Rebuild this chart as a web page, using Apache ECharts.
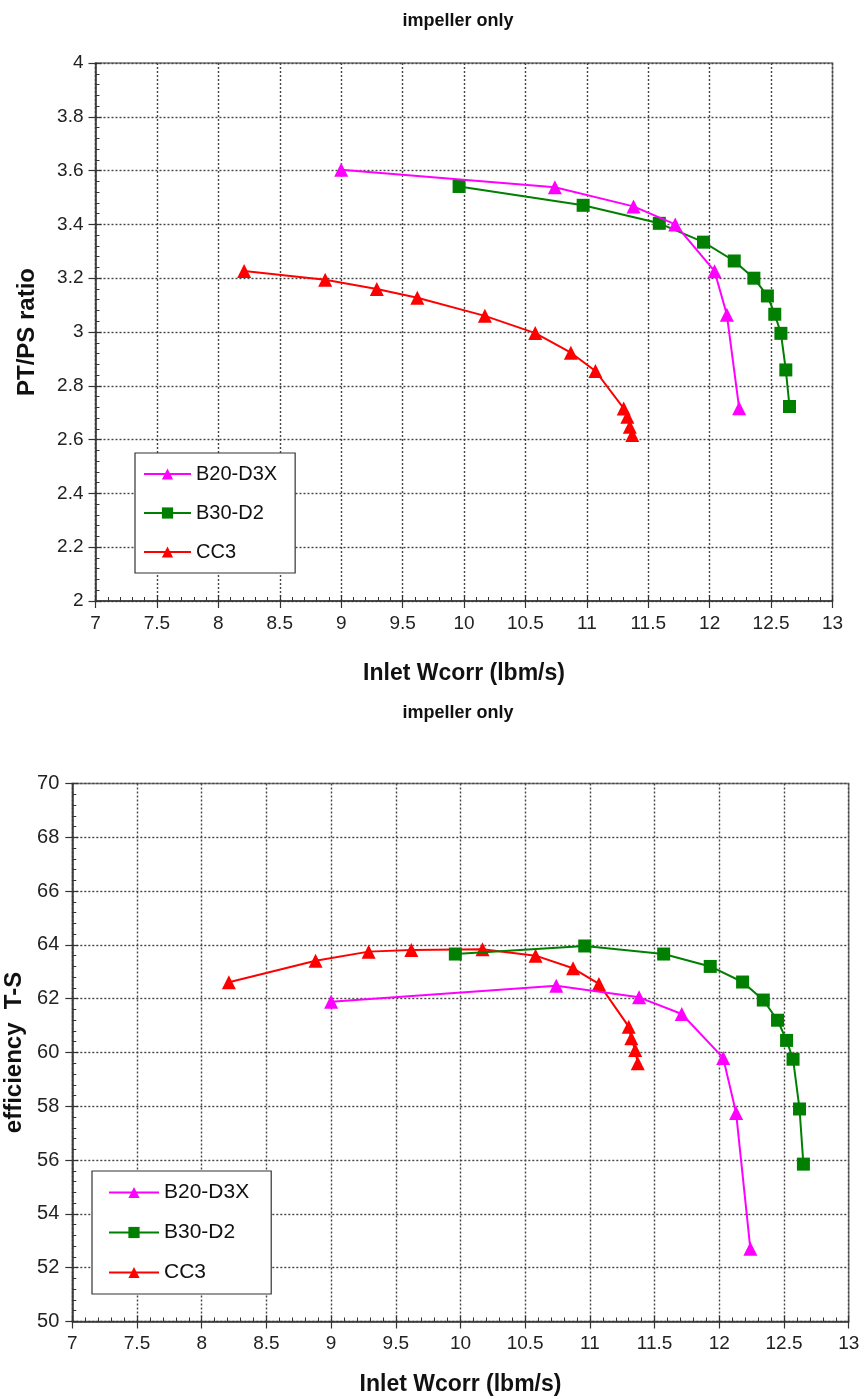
<!DOCTYPE html>
<html>
<head>
<meta charset="utf-8">
<script src="https://cdn.jsdelivr.net/npm/echarts@6/dist/echarts.min.js"></script>
<style>
html,body{margin:0;padding:0;background:#fff;}
#c{width:865px;height:1399px;}
</style>
</head>
<body>
<div id="c"></div>
<script>
// ---------- data ----------
var seriesNames = ['B20-D3X', 'B30-D2', 'CC3'];
var titleText = 'impeller only';
var xName = 'Inlet Wcorr (lbm/s)';
var yNameTop = 'PT/PS ratio';
var yNameBot = 'efficiency  T-S';

// top chart: PT/PS ratio
var b20X_top = [9.00, 10.74, 11.38, 11.72, 12.04, 12.14, 12.24];
var b20Y_top = [3.603, 3.538, 3.467, 3.400, 3.226, 3.064, 2.717];
var b30X_top = [9.96, 10.97, 11.59, 11.95, 12.20, 12.36, 12.47, 12.53, 12.58, 12.62, 12.65];
var b30Y_top = [3.541, 3.471, 3.404, 3.334, 3.264, 3.200, 3.134, 3.066, 2.995, 2.859, 2.723];
var cc3X_top = [8.21, 8.87, 9.29, 9.62, 10.17, 10.58, 10.87, 11.07, 11.30, 11.33, 11.35, 11.37];
var cc3Y_top = [3.227, 3.194, 3.160, 3.127, 3.060, 2.996, 2.923, 2.855, 2.716, 2.685, 2.648, 2.617];

// bottom chart: efficiency T-S
var b20X_bot = [9.00, 10.74, 11.38, 11.71, 12.03, 12.13, 12.24];
var b20Y_bot = [61.89, 62.48, 62.05, 61.43, 59.80, 57.75, 52.70];
var b30X_bot = [9.96, 10.96, 11.57, 11.93, 12.18, 12.34, 12.45, 12.52, 12.57, 12.62, 12.65];
var b30Y_bot = [63.66, 63.96, 63.66, 63.20, 62.62, 61.95, 61.20, 60.45, 59.75, 57.90, 55.85];
var cc3X_bot = [8.21, 8.88, 9.29, 9.62, 10.17, 10.58, 10.87, 11.07, 11.30, 11.32, 11.35, 11.37];
var cc3Y_bot = [62.61, 63.41, 63.75, 63.81, 63.84, 63.60, 63.13, 62.55, 60.96, 60.53, 60.09, 59.60];

// ---------- helpers ----------
function pairs(xs, ys){ return xs.map(function(x,i){ return [x, ys[i]]; }); }
var colors = ['#ff00ff', '#007f00', '#ff0000'];
var symbols = ['triangle', 'rect', 'triangle'];
var symSizes = [14, 13, 14];
var FONT = 'Liberation Sans, Arial, sans-serif';
var NARROW = 'Liberation Sans Narrow, Arial Narrow, Liberation Sans, Arial, sans-serif';

function mkSeries(name, idx, data, axisIdx){
  return {
    type: 'line', name: name, data: data,
    xAxisIndex: axisIdx, yAxisIndex: axisIdx,
    symbol: symbols[idx], symbolSize: symSizes[idx],
    showAllSymbol: true,
    lineStyle: {color: colors[idx], width: 2},
    itemStyle: {color: colors[idx]},
    z: 3 + (2 - idx),
    animation: false
  };
}

function mainX(gridIndex){
  return {
    type: 'value', gridIndex: gridIndex, min: 7, max: 13, interval: 0.5,
    axisLine: {show: true, onZero: false, lineStyle: {color: '#333', width: 1.5}},
    axisTick: {show: true, inside: false, length: 7, lineStyle: {color: '#333', width: 1.2}},
    axisLabel: {fontSize: 19, color: '#222', fontFamily: FONT, margin: 13,
      formatter: function(v){ return String(v); }},
    splitLine: {show: true, lineStyle: {color: '#444', type: [2, 2], width: 1.4}},
    name: xName, nameLocation: 'middle', nameGap: gridIndex === 0 ? 61 : 52,
    nameTextStyle: {fontSize: 23, fontWeight: 'bold', color: '#111', fontFamily: NARROW}
  };
}
function overlayX(gridIndex){
  return {
    type: 'value', gridIndex: gridIndex, min: 7, max: 13, interval: 0.5, position: 'bottom',
    axisLine: {show: false, onZero: false},
    axisTick: {show: true, inside: true, length: 6, lineStyle: {color: '#333', width: 1.2}},
    minorTick: {show: true, splitNumber: 5, length: 4, lineStyle: {color: '#333', width: 1}},
    axisLabel: {show: false}, splitLine: {show: false}
  };
}
function mainY(gridIndex, min, max, interval, name, gap, fsize, margin, fmt){
  return {
    type: 'value', gridIndex: gridIndex, min: min, max: max, interval: interval,
    axisLine: {show: true, onZero: false, lineStyle: {color: '#333', width: 1.5}},
    axisTick: {show: true, inside: false, length: 7, lineStyle: {color: '#333', width: 1.2}},
    axisLabel: {fontSize: fsize, color: '#222', fontFamily: FONT, margin: margin, formatter: fmt},
    splitLine: {show: true, lineStyle: {color: '#444', type: [2, 2], width: 1.4}},
    name: name, nameLocation: 'middle', nameGap: gap, nameRotate: 90,
    nameTextStyle: {fontSize: 24, fontWeight: 'bold', color: '#111', fontFamily: NARROW}
  };
}
function overlayY(gridIndex, min, max, interval){
  return {
    type: 'value', gridIndex: gridIndex, min: min, max: max, interval: interval, position: 'left',
    axisLine: {show: false, onZero: false},
    axisTick: {show: true, inside: true, length: 6, lineStyle: {color: '#333', width: 1.2}},
    minorTick: {show: true, splitNumber: 5, length: 4, lineStyle: {color: '#333', width: 1}},
    axisLabel: {show: false}, splitLine: {show: false}
  };
}

function legendCfg(left, top, fontSize, pad, itemWidth){
  return {
    orient: 'vertical', left: left, top: top,
    data: seriesNames,
    backgroundColor: '#fff', borderColor: '#333', borderWidth: 1.2,
    padding: pad, itemGap: 19, itemWidth: itemWidth, itemHeight: 14,
    textStyle: {fontSize: fontSize, color: '#111', fontFamily: FONT},
    selectedMode: false
  };
}

var option = {
  backgroundColor: '#fff',
  animation: false,
  title: [
    {text: titleText, left: 453, top: 7, textAlign: 'center',
     textStyle: {fontSize: 18, fontWeight: 'bold', color: '#111', fontFamily: NARROW}},
    {text: titleText, left: 453, top: 699, textAlign: 'center',
     textStyle: {fontSize: 18, fontWeight: 'bold', color: '#111', fontFamily: NARROW}}
  ],
  legend: [
    legendCfg(135, 453, 20, [11, 18, 11, 8], 47),
    legendCfg(92, 1171, 21, [11, 22, 11, 16], 50)
  ],
  grid: [
    {left: 95.5, top: 63, width: 737, height: 538, show: true, borderColor: '#777', borderWidth: 1.5,
     backgroundColor: 'transparent', containLabel: false, outerBoundsMode: 'none'},
    {left: 72.3, top: 783.5, width: 776.4, height: 538, show: true, borderColor: '#777', borderWidth: 1.5,
     backgroundColor: 'transparent', containLabel: false, outerBoundsMode: 'none'}
  ],
  xAxis: [mainX(0), mainX(1), overlayX(0), overlayX(1)],
  yAxis: [
    mainY(0, 2, 4, 0.2, yNameTop, 56, 19, 12, function(v){ return String(Math.round(v*10)/10); }),
    mainY(1, 50, 70, 2, yNameBot, 40, 20, 13, function(v){ return String(v); }),
    overlayY(0, 2, 4, 0.2),
    overlayY(1, 50, 70, 2)
  ],
  series: [
    mkSeries(seriesNames[0], 0, pairs(b20X_top, b20Y_top), 0),
    mkSeries(seriesNames[1], 1, pairs(b30X_top, b30Y_top), 0),
    mkSeries(seriesNames[2], 2, pairs(cc3X_top, cc3Y_top), 0),
    mkSeries(seriesNames[0], 0, pairs(b20X_bot, b20Y_bot), 1),
    mkSeries(seriesNames[1], 1, pairs(b30X_bot, b30Y_bot), 1),
    mkSeries(seriesNames[2], 2, pairs(cc3X_bot, cc3Y_bot), 1)
  ]
};

var chart = echarts.init(document.getElementById('c'), null, {renderer: 'canvas'});
chart.setOption(option);
</script>
</body>
</html>
